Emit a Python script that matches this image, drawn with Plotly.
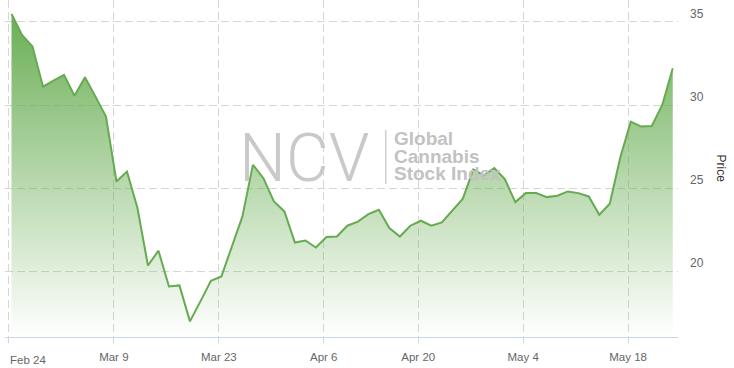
import plotly.graph_objects as go

# ---------------- data ----------------
DATES = [
    "2020-02-24", "2020-02-25", "2020-02-26", "2020-02-27", "2020-02-28",
    "2020-03-02", "2020-03-03", "2020-03-04", "2020-03-05", "2020-03-06",
    "2020-03-09", "2020-03-10", "2020-03-11", "2020-03-12", "2020-03-13",
    "2020-03-16", "2020-03-17", "2020-03-18", "2020-03-19", "2020-03-20",
    "2020-03-23", "2020-03-24", "2020-03-25", "2020-03-26", "2020-03-27",
    "2020-03-30", "2020-03-31", "2020-04-01", "2020-04-02", "2020-04-03",
    "2020-04-06", "2020-04-07", "2020-04-08", "2020-04-09",
    "2020-04-13", "2020-04-14", "2020-04-15", "2020-04-16", "2020-04-17",
    "2020-04-20", "2020-04-21", "2020-04-22", "2020-04-23", "2020-04-24",
    "2020-04-27", "2020-04-28", "2020-04-29", "2020-04-30", "2020-05-01",
    "2020-05-04", "2020-05-05", "2020-05-06", "2020-05-07", "2020-05-08",
    "2020-05-11", "2020-05-12", "2020-05-13", "2020-05-14", "2020-05-15",
    "2020-05-18", "2020-05-19", "2020-05-20", "2020-05-21", "2020-05-22",
]

PRICES = [
    35.48, 34.22, 33.52, 31.11, 31.47, 31.82, 30.56, 31.68, 30.51, 29.31,
    25.41, 26.01, 23.81, 20.36, 21.25, 19.10, 19.16, 17.00, 18.20, 19.44,
    19.70, 21.56, 23.31, 26.41, 25.61, 24.21, 23.61, 21.74, 21.86, 21.44,
    22.07, 22.10, 22.75, 23.00, 23.45, 23.71, 22.61, 22.10, 22.75,
    23.05, 22.75, 22.95, 23.66, 24.38, 26.13, 25.78, 26.21, 25.55, 24.17,
    24.71, 24.71, 24.47, 24.55, 24.81, 24.71, 24.51, 23.41, 24.07, 26.85,
    29.01, 28.71, 28.75, 30.01, 32.22,
]

TICK_DATES = ["2020-02-24", "2020-03-09", "2020-03-23", "2020-04-06",
              "2020-04-20", "2020-05-04", "2020-05-18"]
TICK_LABELS = ["Feb 24", "Mar 9", "Mar 23", "Apr 6", "Apr 20", "May 4", "May 18"]

Y_TICKS = [20, 25, 30, 35]
Y_TITLE = "Price"

# ---------------- layout constants ----------------
W, H = 734, 368
ML, MR, MT, MB = 5, 56, 0, 31
PW, PH = W - ML - MR, H - MT - MB

X_MIN = -0.62
X_MAX = len(PRICES) - 1 + 0.5
TICK_OFFSET = 0.25
Y_MIN, Y_MAX = 16.06, 36.32

FONT = "Liberation Sans, Arial, Helvetica, sans-serif"
LINE_COLOR = "rgb(102,170,82)"
GRID_COLOR = "#d6d6d6"
AXIS_COLOR = "#ccd6eb"
LABEL_COLOR = "#666666"

x_idx = list(range(len(PRICES)))
tickvals = [max(X_MIN, DATES.index(d) - TICK_OFFSET) for d in TICK_DATES]
ticktext = [""] + TICK_LABELS[1:]


def px_x(px):
    return (px - ML) / PW


def px_y(py):
    return (H - MB - py) / PH


fig = go.Figure()
fig.add_trace(go.Scatter(
    x=x_idx, y=PRICES, customdata=DATES,
    mode="lines",
    line=dict(color=LINE_COLOR, width=2),
    fill="tozeroy",
    fillgradient=dict(
        type="vertical",
        colorscale=[[0, "rgba(102,172,80,0)"], [1, "rgba(102,172,80,0.97)"]],
        start=Y_MIN, stop=max(PRICES),
    ),
    hovertemplate="%{customdata}<br>%{y:.2f}<extra></extra>",
    showlegend=False,
))

WM_FONT = dict(family=FONT, size=19, color="#c2c2c2", weight="bold")

annotations = [
    # first x tick label, justified inside the chart
    dict(text=TICK_LABELS[0], x=tickvals[0], xref="x", y=0, yref="paper",
         xanchor="left", yanchor="top", xshift=-1, yshift=-15, showarrow=False,
         font=dict(family=FONT, size=11.5, color=LABEL_COLOR)),
    # y axis title
    dict(text=Y_TITLE, x=1, xref="paper", y=0.5, yref="paper",
         xanchor="center", yanchor="middle", xshift=43, textangle=90,
         showarrow=False, font=dict(family=FONT, size=12, color="#333333")),
    # watermark
    dict(text="NCV", x=px_x(237), y=px_y(158), xref="paper", yref="paper",
         xanchor="left", yanchor="middle", showarrow=False,
         font=dict(family="Roboto, " + FONT, size=66, color="#c9c9c9", weight=300)),
    dict(text="Global", x=px_x(392), y=px_y(138.5), xref="paper", yref="paper",
         xanchor="left", yanchor="middle", showarrow=False, font=WM_FONT),
    dict(text="Cannabis", x=px_x(392), y=px_y(156), xref="paper", yref="paper",
         xanchor="left", yanchor="middle", showarrow=False, font=WM_FONT),
    dict(text="Stock Index", x=px_x(392), y=px_y(173.5), xref="paper", yref="paper",
         xanchor="left", yanchor="middle", showarrow=False, font=WM_FONT),
]

shapes = [
    dict(type="line", xref="paper", yref="paper",
         x0=px_x(385.7), x1=px_x(385.7), y0=px_y(130), y1=px_y(184),
         line=dict(color="#cfcfcf", width=1.5), layer="below"),
]

fig.update_layout(
    width=W, height=H,
    margin=dict(l=ML, r=MR, t=MT, b=MB, pad=0),
    paper_bgcolor="white", plot_bgcolor="white",
    font=dict(family=FONT, color=LABEL_COLOR),
    annotations=annotations,
    shapes=shapes,
    xaxis=dict(
        range=[X_MIN, X_MAX],
        tickmode="array", tickvals=tickvals, ticktext=ticktext,
        showgrid=True, gridcolor=GRID_COLOR, griddash="8px,4px", gridwidth=1,
        showline=True, linecolor=AXIS_COLOR, linewidth=1,
        ticks="outside", ticklen=5, tickcolor=AXIS_COLOR,
        ticklabelstandoff=4,
        tickfont=dict(family=FONT, size=11.5, color=LABEL_COLOR),
        zeroline=False, fixedrange=True,
    ),
    yaxis=dict(
        side="right",
        range=[Y_MIN, Y_MAX],
        tickmode="array", tickvals=Y_TICKS,
        showgrid=True, gridcolor=GRID_COLOR, griddash="8px,4px", gridwidth=1,
        showline=False, zeroline=False,
        ticks="", ticklabelposition="outside top", ticklabelstandoff=11,
        tickfont=dict(family=FONT, size=12, color=LABEL_COLOR),
        fixedrange=True,
    ),
    hovermode="closest",
)

fig.write_html("out.html")
